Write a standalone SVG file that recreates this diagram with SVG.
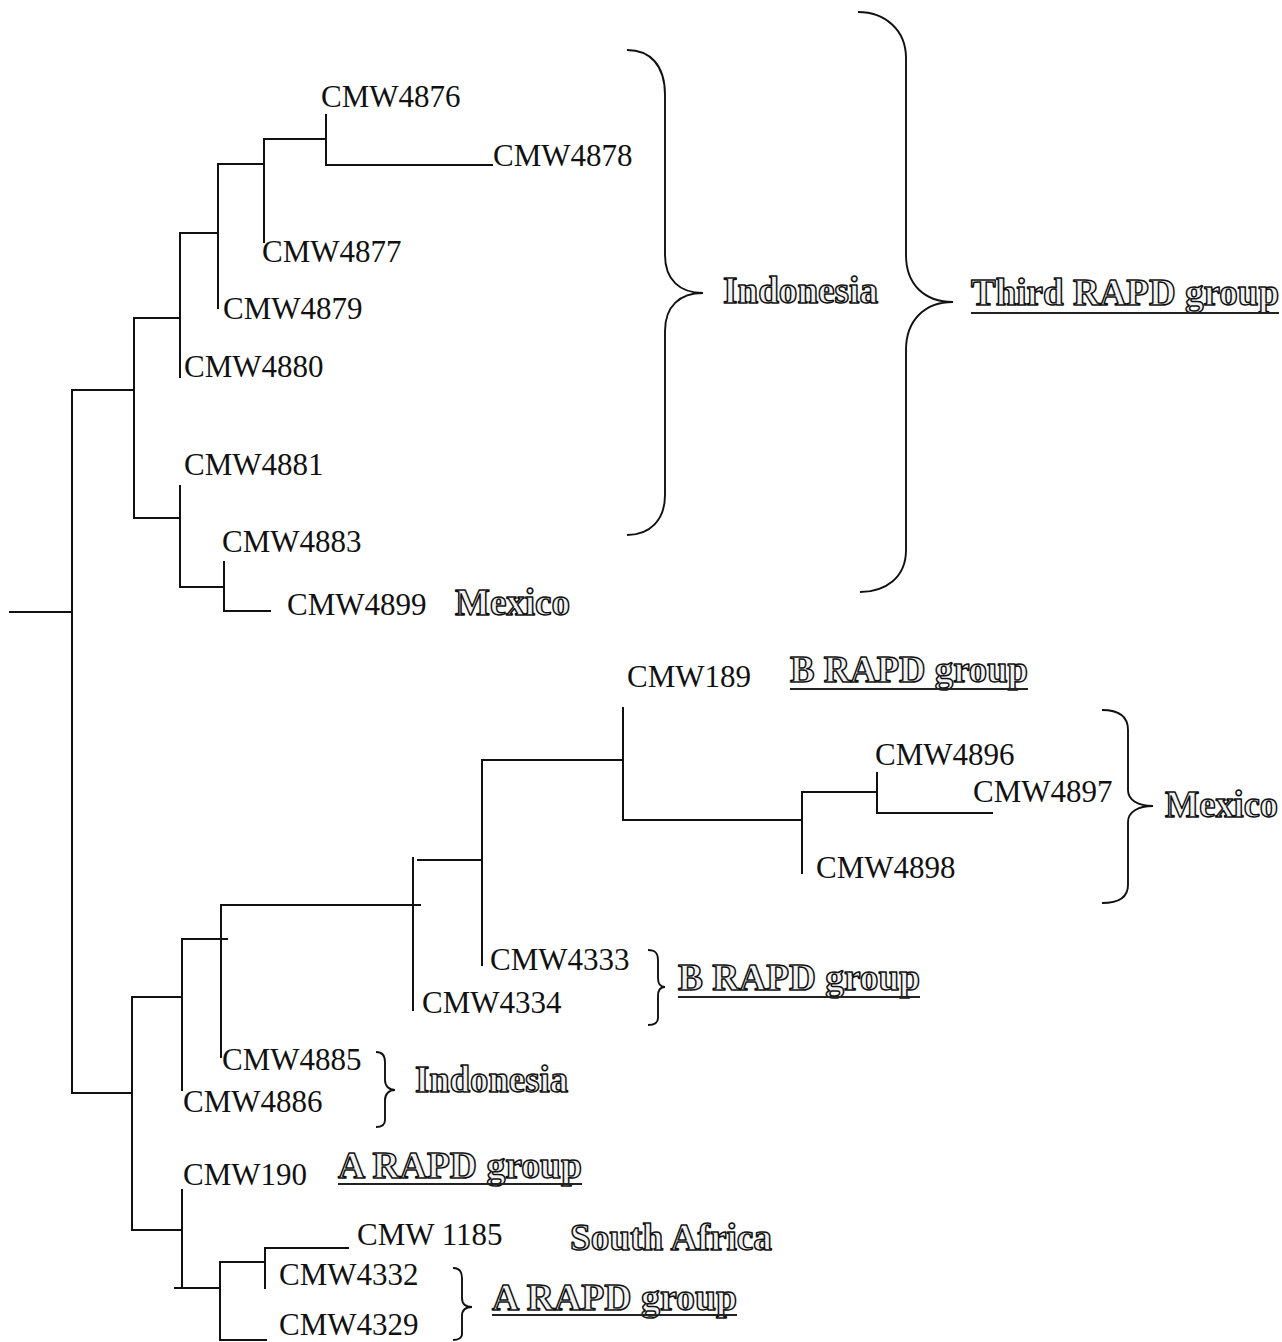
<svg xmlns="http://www.w3.org/2000/svg" width="1282" height="1342" viewBox="0 0 1282 1342">
<style>
.lbl{font-family:"Liberation Serif","Times New Roman",serif;font-size:31px;fill:#111}
.out{font-family:"Liberation Serif","Times New Roman",serif;font-weight:bold;font-size:37px;fill:#f2f2f2;stroke:#111;stroke-width:1.5;stroke-linejoin:round}
.ln{stroke:#111;stroke-width:2;fill:none;stroke-linecap:square}
.br{stroke:#111;stroke-width:1.9;fill:none}
.ul{stroke:#222;stroke-width:2}
</style>
<rect width="1282" height="1342" fill="#fff"/>
<g id="connectors" class="ln">
<path d="M10,612H72 M72,390V1093 M72,390H134 M134,318V518 M134,318H180 M180,233V377 M180,233H218 M218,164V308 M218,164H264 M264,139V242 M264,139H326 M326,115V165 M326,165H492 M134,518H180 M180,486V587 M180,587H224 M224,562V611 M224,611H270"/>
<path d="M72,1093H132 M132,997V1230 M132,997H182 M182,939V1090 M182,939H227 M221,905V1057 M221,905H420 M413,858V1010 M418,860H482 M482,760V965 M482,760H623 M623,708V820 M623,820H802 M802,792V873 M802,792H877 M877,773V813 M877,813H992"/>
<path d="M132,1230H182 M182,1190V1288 M175,1288H220 M220,1262V1340 M220,1262H265 M265,1248V1288 M265,1248H348 M220,1340H266"/>
</g>
<g id="brackets" class="br">
<path d="M627,50 C650,50 665,65 665,95 L665,255 C665,280 680,293 703,293 C680,293 665,306 665,331 L665,495 C665,520 650,535 627,535"/>
<path d="M858,12 C885,12 906,30 906,58 L906,255 C906,285 925,302 953,302 C925,302 906,320 906,350 L906,550 C906,578 885,592 860,592"/>
<path d="M1102,710 C1118,710 1128,716 1128,730 L1128,790 C1128,800 1138,806 1153,806 C1138,806 1128,812 1128,822 L1128,885 C1128,898 1118,903 1102,903"/>
<path d="M648,950 C656,950 658,954 658,960 L658,978 C658,984 661,987 665,987 C661,987 658,990 658,996 L658,1018 C658,1023 654,1025 648,1025"/>
<path d="M376,1052 C383,1052 385,1056 385,1062 L385,1080 C385,1086 389,1090 395,1090 C389,1090 385,1094 385,1100 L385,1120 C385,1125 381,1127 376,1127"/>
<path d="M453,1268 C460,1268 462,1272 462,1278 L462,1298 C462,1304 466,1307 472,1307 C466,1307 462,1310 462,1316 L462,1334 C462,1338 458,1340 453,1340"/>
</g>
<g id="n-CMW4876"><text class="lbl" x="321" y="107">CMW4876</text></g>
<g id="n-CMW4878"><text class="lbl" x="493" y="166">CMW4878</text></g>
<g id="n-CMW4877"><text class="lbl" x="262" y="262">CMW4877</text></g>
<g id="n-CMW4879"><text class="lbl" x="223" y="319">CMW4879</text></g>
<g id="n-CMW4880"><text class="lbl" x="184" y="377">CMW4880</text></g>
<g id="n-CMW4881"><text class="lbl" x="184" y="475">CMW4881</text></g>
<g id="n-CMW4883"><text class="lbl" x="222" y="552">CMW4883</text></g>
<g id="n-CMW4899"><text class="lbl" x="287" y="615">CMW4899</text><text class="out" x="455" y="615" textLength="115" lengthAdjust="spacingAndGlyphs">Mexico</text></g>
<g id="n-CMW189"><text class="lbl" x="627" y="687">CMW189</text><text class="out" x="790" y="682" textLength="238" lengthAdjust="spacingAndGlyphs">B RAPD group</text><line class="ul" x1="790" y1="689" x2="1028" y2="689"/></g>
<g id="n-CMW4896"><text class="lbl" x="875" y="765">CMW4896</text></g>
<g id="n-CMW4897"><text class="lbl" x="973" y="802">CMW4897</text></g>
<g id="n-CMW4898"><text class="lbl" x="816" y="878">CMW4898</text></g>
<g id="n-CMW4333"><text class="lbl" x="490" y="970">CMW4333</text></g>
<g id="n-CMW4334"><text class="lbl" x="422" y="1013">CMW4334</text></g>
<g id="n-CMW4885"><text class="lbl" x="222" y="1070">CMW4885</text></g>
<g id="n-CMW4886"><text class="lbl" x="183" y="1112">CMW4886</text></g>
<g id="n-CMW190"><text class="lbl" x="183" y="1185">CMW190</text><text class="out" x="338" y="1178" textLength="244" lengthAdjust="spacingAndGlyphs">A RAPD group</text><line class="ul" x1="338" y1="1184" x2="582" y2="1184"/></g>
<g id="n-CMW1185"><text class="lbl" x="357" y="1245">CMW 1185</text><text class="out" x="570" y="1250" textLength="202" lengthAdjust="spacingAndGlyphs">South Africa</text></g>
<g id="n-CMW4332"><text class="lbl" x="279" y="1285">CMW4332</text></g>
<g id="n-CMW4329"><text class="lbl" x="279" y="1335">CMW4329</text></g>
<g id="g-indonesia-top"><text class="out" x="723" y="303" textLength="155" lengthAdjust="spacingAndGlyphs">Indonesia</text></g>
<g id="g-third-rapd"><text class="out" x="971" y="305" textLength="308" lengthAdjust="spacingAndGlyphs">Third RAPD group</text><line class="ul" x1="971" y1="313" x2="1279" y2="313"/></g>
<g id="g-mexico-right"><text class="out" x="1165" y="817" textLength="113" lengthAdjust="spacingAndGlyphs">Mexico</text></g>
<g id="g-b-rapd-lower"><text class="out" x="678" y="990" textLength="242" lengthAdjust="spacingAndGlyphs">B RAPD group</text><line class="ul" x1="678" y1="997" x2="920" y2="997"/></g>
<g id="g-indonesia-low"><text class="out" x="415" y="1092" textLength="153" lengthAdjust="spacingAndGlyphs">Indonesia</text></g>
<g id="g-a-rapd-lower"><text class="out" x="492" y="1310" textLength="245" lengthAdjust="spacingAndGlyphs">A RAPD group</text><line class="ul" x1="492" y1="1315" x2="737" y2="1315"/></g>
</svg>
